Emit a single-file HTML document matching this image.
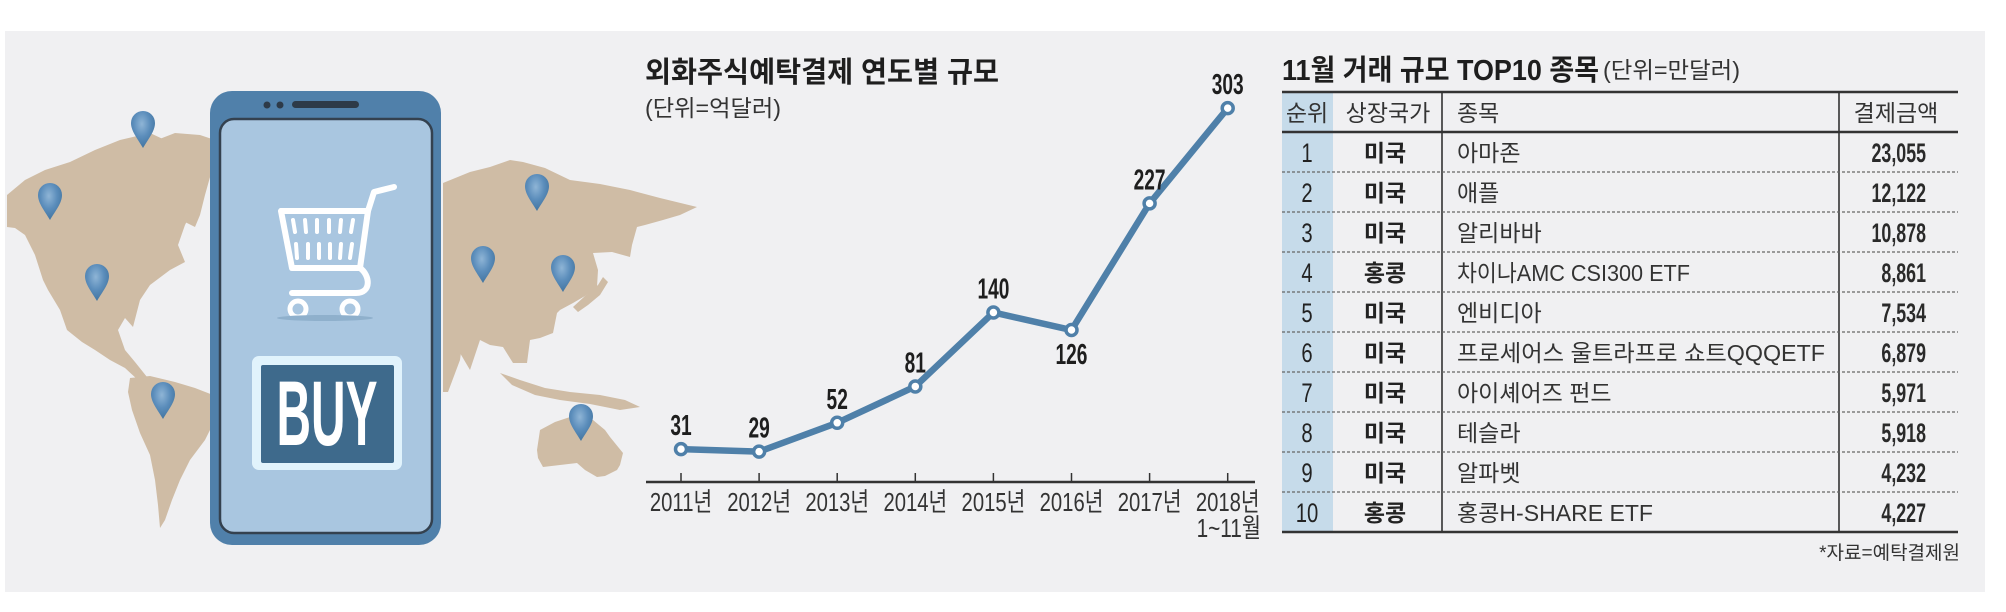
<!DOCTYPE html>
<html><head><meta charset="utf-8">
<style>
html,body{margin:0;padding:0;background:#fff;}
svg{display:block;font-family:"Liberation Sans","Noto Sans CJK KR",sans-serif;}
</style></head>
<body>
<svg id="root" width="2006" height="612" viewBox="0 0 2006 612" xmlns="http://www.w3.org/2000/svg">
  <defs>
    <radialGradient id="pinGrad" cx="0.45" cy="0.35" r="0.7">
      <stop offset="0" stop-color="#8fb5d6"/>
      <stop offset="0.5" stop-color="#5b8dbb"/>
      <stop offset="1" stop-color="#3f719c"/>
    </radialGradient>
  </defs>
  <rect x="5" y="31" width="1980" height="561" fill="#f0f0f2"/>

  <g fill="#cfbca5">
    <polygon points="7,195 25,180 45,170 70,162 95,150 120,140 150,133 165,140 160,160 175,165 190,180 195,205 185,225 178,245 185,262 170,270 150,285 140,300 133,327 125,318 118,330 125,350 135,362 147,377 138,380 125,368 110,360 95,350 82,342 67,330 60,310 48,290 43,280 35,255 25,235 15,228 7,227"/>
    <polygon points="157,140 175,133 200,135 215,140 212,170 205,195 200,215 195,227 185,222 180,200 170,180 160,160"/>
    <polygon points="130,378 150,376 175,382 195,388 213,395 215,420 205,440 190,460 180,480 172,500 165,520 160,528 158,505 155,480 150,455 140,433 132,410 128,392"/>
    <polygon points="443,183 470,172 490,167 510,160 523,162 545,168 570,180 600,184 630,190 660,198 697,207 680,215 663,220 645,225 637,227 632,245 630,257 612,252 593,253 598,270 597,287 585,296 573,303 560,310 557,313 553,333 540,338 530,340 527,363 513,363 503,347 490,345 480,340 470,370 460,353 450,340 443,333"/>
    <polygon points="573,307 585,296 598,285 603,277 608,282 600,295 588,305 578,312"/>
    <polygon points="500,373 520,380 545,388 570,392 600,395 625,400 640,407 620,410 590,404 560,400 535,395 512,385"/>
    <polygon points="540,430 555,422 570,417 593,420 605,430 610,437 623,453 620,465 617,470 605,476 597,477 585,470 577,463 560,465 543,467 538,458 537,450"/>
    <polygon points="443,234 470,236 468,300 460,360 448,392 443,392"/>
  </g>

  <g fill="url(#pinGrad)">
    <path d="M143,148 C137,138 131,131 131,123 A12,12 0 0 1 155,123 C155,131 149,138 143,148 Z"/>
    <path d="M50,220 C44,210 38,203 38,195 A12,12 0 0 1 62,195 C62,203 56,210 50,220 Z"/>
    <path d="M97,301 C91,291 85,284 85,276 A12,12 0 0 1 109,276 C109,284 103,291 97,301 Z"/>
    <path d="M163,419 C157,409 151,402 151,394 A12,12 0 0 1 175,394 C175,402 169,409 163,419 Z"/>
    <path d="M537,211 C531,201 525,194 525,186 A12,12 0 0 1 549,186 C549,194 543,201 537,211 Z"/>
    <path d="M483,283 C477,273 471,266 471,258 A12,12 0 0 1 495,258 C495,266 489,273 483,283 Z"/>
    <path d="M563,292 C557,282 551,275 551,267 A12,12 0 0 1 575,267 C575,275 569,282 563,292 Z"/>
    <path d="M581,441 C575,431 569,424 569,416 A12,12 0 0 1 593,416 C593,424 587,431 581,441 Z"/>
  </g>

  <g>
    <rect x="210" y="91" width="231" height="454" rx="22" fill="#5080aa"/>
    <circle cx="267" cy="105" r="3.5" fill="#2d3a48"/>
    <circle cx="280" cy="105" r="3.5" fill="#2d3a48"/>
    <rect x="292" y="101" width="67" height="7" rx="3.5" fill="#2d3a48"/>
    <rect x="220" y="119" width="212" height="414" rx="14" fill="#a9c6e0" stroke="#34414f" stroke-width="2.5"/>
    <g fill="none" stroke="#ffffff" stroke-linecap="round" stroke-linejoin="round">
      <path d="M281,211 L368,211 L360,268 L292,268 Z" stroke-width="6"/>
      <line x1="293" y1="220" x2="295" y2="232" stroke-width="4"/>
      <line x1="305" y1="220" x2="306" y2="232" stroke-width="4"/>
      <line x1="317" y1="220" x2="317" y2="232" stroke-width="4"/>
      <line x1="329" y1="220" x2="329" y2="232" stroke-width="4"/>
      <line x1="341" y1="220" x2="340" y2="232" stroke-width="4"/>
      <line x1="353" y1="220" x2="351" y2="232" stroke-width="4"/>
      <line x1="296" y1="244" x2="297" y2="258" stroke-width="4"/>
      <line x1="308" y1="244" x2="308" y2="258" stroke-width="4"/>
      <line x1="319" y1="244" x2="319" y2="258" stroke-width="4"/>
      <line x1="330" y1="244" x2="330" y2="258" stroke-width="4"/>
      <line x1="341" y1="244" x2="340" y2="258" stroke-width="4"/>
      <line x1="352" y1="244" x2="350" y2="258" stroke-width="4"/>
      <path d="M368,211 L374,192 L394,187" stroke-width="6"/>
      <path d="M360,268 C370,275 372,293 356,293 L292,293" stroke-width="6"/>
      <circle cx="298" cy="309" r="8" stroke-width="5"/>
      <circle cx="350" cy="309" r="8" stroke-width="5"/>
    </g>
    <ellipse cx="325" cy="318" rx="48" ry="3" fill="#8fb0cc"/>
    <rect x="252" y="356" width="150" height="114" rx="7" fill="#e1f3fc"/>
    <rect x="261" y="365" width="133" height="98" rx="2" fill="#3e6a8c"/>
    <text transform="translate(327,445) scale(0.52,1)" text-anchor="middle" font-size="92" font-weight="bold" fill="#ffffff">BUY</text>
  </g>

  <g id="chart">
    <text x="645" y="82" font-size="29" font-weight="bold" fill="#1e1e1e" textLength="354" lengthAdjust="spacingAndGlyphs">외화주식예탁결제 연도별 규모</text>
    <text x="645" y="116" font-size="23" fill="#333" textLength="136" lengthAdjust="spacingAndGlyphs">(단위=억달러)</text>
    <line x1="646" y1="482" x2="1255" y2="482" stroke="#333" stroke-width="2.5"/>
    <g id="ticks"></g>
    <g id="xlabels"></g>
    <text transform="translate(1261,537) scale(0.8,1)" text-anchor="end" font-size="26" fill="#333">1~11월</text>
    <path id="series-line" fill="none" stroke="#4f80a9" stroke-width="6.5" stroke-linejoin="round" stroke-linecap="round"/>
    <g id="markers"></g>
    <g id="vlabels"></g>
  </g>

  <g fill="#222">
    <text x="1282" y="80" font-size="29" font-weight="bold" fill="#1e1e1e" textLength="317" lengthAdjust="spacingAndGlyphs">11월 거래 규모 TOP10 종목</text>
    <text x="1603" y="78" font-size="23" fill="#333" textLength="137" lengthAdjust="spacingAndGlyphs">(단위=만달러)</text>
    <rect x="1282" y="92" width="51" height="440" fill="#c6dbea"/>
    <line x1="1282" y1="92" x2="1958" y2="92" stroke="#333" stroke-width="2.5"/>
    <line x1="1282" y1="132" x2="1958" y2="132" stroke="#333" stroke-width="2.5"/>
    <line x1="1282" y1="532" x2="1958" y2="532" stroke="#333" stroke-width="2.5"/>
    <line x1="1442" y1="92" x2="1442" y2="532" stroke="#333" stroke-width="1.6"/>
    <line x1="1839" y1="92" x2="1839" y2="532" stroke="#333" stroke-width="1.6"/>
    <g stroke="#666" stroke-width="1.2" stroke-dasharray="3,2">
      <line x1="1282" y1="172" x2="1958" y2="172"/><line x1="1282" y1="212" x2="1958" y2="212"/>
      <line x1="1282" y1="252" x2="1958" y2="252"/><line x1="1282" y1="292" x2="1958" y2="292"/>
      <line x1="1282" y1="332" x2="1958" y2="332"/><line x1="1282" y1="372" x2="1958" y2="372"/>
      <line x1="1282" y1="412" x2="1958" y2="412"/><line x1="1282" y1="452" x2="1958" y2="452"/>
      <line x1="1282" y1="492" x2="1958" y2="492"/>
    </g>
    <g font-size="23" fill="#333">
      <text x="1307" y="121" text-anchor="middle">순위</text>
      <text x="1388" y="121" text-anchor="middle">상장국가</text>
      <text x="1457" y="121">종목</text>
      <text x="1896" y="121" text-anchor="middle">결제금액</text>
    </g>
    <g font-size="27" text-anchor="middle">
      <text transform="translate(1307,162) scale(0.75,1)">1</text>
      <text transform="translate(1307,202) scale(0.75,1)">2</text>
      <text transform="translate(1307,242) scale(0.75,1)">3</text>
      <text transform="translate(1307,282) scale(0.75,1)">4</text>
      <text transform="translate(1307,322) scale(0.75,1)">5</text>
      <text transform="translate(1307,362) scale(0.75,1)">6</text>
      <text transform="translate(1307,402) scale(0.75,1)">7</text>
      <text transform="translate(1307,442) scale(0.75,1)">8</text>
      <text transform="translate(1307,482) scale(0.75,1)">9</text>
      <text transform="translate(1307,522) scale(0.75,1)">10</text>
    </g>
    <g font-size="23" font-weight="bold" text-anchor="middle">
      <text x="1385" y="161">미국</text><text x="1385" y="201">미국</text>
      <text x="1385" y="241">미국</text><text x="1385" y="281">홍콩</text>
      <text x="1385" y="321">미국</text><text x="1385" y="361">미국</text>
      <text x="1385" y="401">미국</text><text x="1385" y="441">미국</text>
      <text x="1385" y="481">미국</text><text x="1385" y="521">홍콩</text>
    </g>
    <g font-size="23" fill="#333">
      <text x="1457" y="161">아마존</text>
      <text x="1457" y="201">애플</text>
      <text x="1457" y="241">알리바바</text>
      <text x="1457" y="281" textLength="233" lengthAdjust="spacingAndGlyphs">차이나AMC CSI300 ETF</text>
      <text x="1457" y="321">엔비디아</text>
      <text x="1457" y="361" textLength="368" lengthAdjust="spacingAndGlyphs">프로세어스 울트라프로 쇼트QQQETF</text>
      <text x="1457" y="401">아이셰어즈 펀드</text>
      <text x="1457" y="441">테슬라</text>
      <text x="1457" y="481">알파벳</text>
      <text x="1457" y="521" textLength="196" lengthAdjust="spacingAndGlyphs">홍콩H-SHARE ETF</text>
    </g>
    <g font-size="27" font-weight="bold" text-anchor="end" fill="#2a2a2a">
      <text transform="translate(1926,162) scale(0.66,1)">23,055</text>
      <text transform="translate(1926,202) scale(0.66,1)">12,122</text>
      <text transform="translate(1926,242) scale(0.66,1)">10,878</text>
      <text transform="translate(1926,282) scale(0.66,1)">8,861</text>
      <text transform="translate(1926,322) scale(0.66,1)">7,534</text>
      <text transform="translate(1926,362) scale(0.66,1)">6,879</text>
      <text transform="translate(1926,402) scale(0.66,1)">5,971</text>
      <text transform="translate(1926,442) scale(0.66,1)">5,918</text>
      <text transform="translate(1926,482) scale(0.66,1)">4,232</text>
      <text transform="translate(1926,522) scale(0.66,1)">4,227</text>
    </g>
    <text x="1960" y="559" text-anchor="end" font-size="19" fill="#333">*자료=예탁결제원</text>
  </g>
</svg>
<script>
const years = ["2011년","2012년","2013년","2014년","2015년","2016년","2017년","2018년"];
const values = [31, 29, 52, 81, 140, 126, 227, 303];
const valueLabels = ["31","29","52","81","140","126","227","303"];
const labelBelow = [false,false,false,false,false,true,false,false];

const NS = "http://www.w3.org/2000/svg";
function xPos(i){ return 681 + i * 78.1; }
function yPos(v){ return 488 - 1.2537 * v; }

const ticksG = document.getElementById('ticks');
const xlG = document.getElementById('xlabels');
const mG = document.getElementById('markers');
const vlG = document.getElementById('vlabels');

let d = "";
values.forEach(function(v, i){
  const x = xPos(i), y = yPos(v);
  d += (i === 0 ? "M" : "L") + x + "," + y + " ";

  const t = document.createElementNS(NS, 'line');
  
  
  t.setAttribute('x1', x); t.setAttribute('x2', x);
  t.setAttribute('y1', 473); t.setAttribute('y2', 482);
  t.setAttribute('stroke', '#333'); t.setAttribute('stroke-width', '1.5');
  ticksG.appendChild(t);

  const lb = document.createElementNS(NS, 'text');
  
  
  lb.setAttribute('transform', 'translate(' + x + ',511) scale(0.78,1)');
  lb.setAttribute('text-anchor', 'middle');
  lb.setAttribute('font-size', '26');
  lb.setAttribute('fill', '#333');
  lb.textContent = years[i];
  xlG.appendChild(lb);

  const c = document.createElementNS(NS, 'circle');
  
  
  c.setAttribute('cx', x); c.setAttribute('cy', y); c.setAttribute('r', 5.5);
  c.setAttribute('fill', '#ffffff'); c.setAttribute('stroke', '#4f80a9'); c.setAttribute('stroke-width', '3.5');
  mG.appendChild(c);

  const vl = document.createElementNS(NS, 'text');
  
  
  const ly = labelBelow[i] ? y + 34 : y - 14;
  vl.setAttribute('transform', 'translate(' + x + ',' + ly + ') scale(0.66,1)');
  vl.setAttribute('text-anchor', 'middle');
  vl.setAttribute('font-size', '29');
  vl.setAttribute('font-weight', 'bold');
  vl.setAttribute('fill', '#1e1e1e');
  vl.textContent = valueLabels[i];
  vlG.appendChild(vl);
});
document.getElementById('series-line').setAttribute('d', d);
</script>
</body></html>
